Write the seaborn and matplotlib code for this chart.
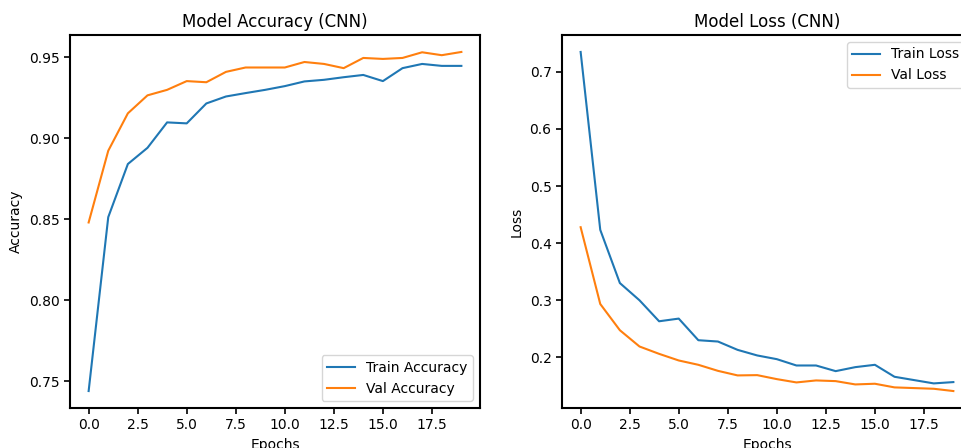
import numpy as np
import pandas as pd
import matplotlib
matplotlib.use("Agg")
import matplotlib.pyplot as plt
import seaborn as sns

epochs = list(range(20))
train_acc = [0.7438, 0.8512, 0.8840, 0.8940, 0.9097, 0.9091, 0.9214, 0.9257, 0.9278, 0.9298,
             0.9321, 0.9350, 0.9360, 0.9376, 0.9390, 0.9352, 0.9432, 0.9458, 0.9446, 0.9446]
val_acc = [0.8479, 0.8922, 0.9153, 0.9264, 0.9298, 0.9352, 0.9345, 0.9409, 0.9436, 0.9436,
           0.9436, 0.9470, 0.9458, 0.9432, 0.9495, 0.9489, 0.9495, 0.9530, 0.9512, 0.9532]
train_loss = [0.7350, 0.4232, 0.3299, 0.2997, 0.2629, 0.2676, 0.2297, 0.2274, 0.2128, 0.2030,
              0.1965, 0.1854, 0.1854, 0.1755, 0.1825, 0.1866, 0.1656, 0.1598, 0.1540, 0.1563]
val_loss = [0.4278, 0.2932, 0.2472, 0.2187, 0.2058, 0.1942, 0.1866, 0.1760, 0.1680, 0.1685,
            0.1615, 0.1557, 0.1592, 0.1580, 0.1522, 0.1534, 0.1470, 0.1458, 0.1446, 0.1406]

W, H = 961, 448
fig = plt.figure(figsize=(W / 100, H / 100), dpi=100)
ax1 = fig.add_axes([70 / W, 1 - 408 / H, 410 / W, 373 / H])
ax2 = fig.add_axes([562 / W, 1 - 408 / H, 410 / W, 373 / H])

blue, orange = "#1f77b4", "#ff7f0e"

sns.lineplot(x=epochs, y=train_acc, ax=ax1, color=blue, label="Train Accuracy", linewidth=1.5)
sns.lineplot(x=epochs, y=val_acc, ax=ax1, color=orange, label="Val Accuracy", linewidth=1.5)
ax1.set_title("Model Accuracy (CNN)", fontsize=12)
ax1.set_xlabel("Epochs", fontsize=10)
ax1.set_ylabel("Accuracy", fontsize=10)
ax1.legend(loc="lower right", fontsize=10)

sns.lineplot(x=epochs, y=train_loss, ax=ax2, color=blue, label="Train Loss", linewidth=1.5)
sns.lineplot(x=epochs, y=val_loss, ax=ax2, color=orange, label="Val Loss", linewidth=1.5)
ax2.set_title("Model Loss (CNN)", fontsize=12)
ax2.set_xlabel("Epochs", fontsize=10)
ax2.set_ylabel("Loss", fontsize=10)
ax2.legend(loc="upper right", fontsize=10)

for ax in (ax1, ax2):
    for s in ax.spines.values():
        s.set_linewidth(1.5)
        s.set_color("black")
    ax.tick_params(labelsize=10, width=1.2, length=4)
    ax.set_xticks([0, 2.5, 5, 7.5, 10, 12.5, 15, 17.5])
    ax.set_xticklabels(["0.0", "2.5", "5.0", "7.5", "10.0", "12.5", "15.0", "17.5"])

fig.savefig("out.png", dpi=100)
